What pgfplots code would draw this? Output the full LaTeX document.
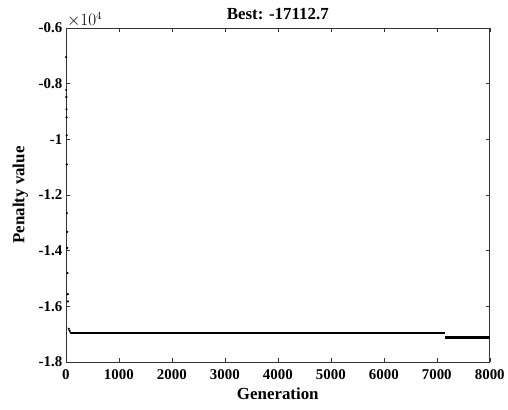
\documentclass[border=0pt]{standalone}
\usepackage{fontspec}
\setmainfont{Liberation Serif}
\usepackage{pgfplots}
\pgfplotsset{compat=1.18}
\begin{document}
\begin{tikzpicture}[x=1bp,y=1bp]
\begin{axis}[
  scale only axis,
  width=425bp, height=335bp,
  xmin=0, xmax=8000, ymin=-18000, ymax=-6000,
  xtick={0,1000,...,8000},
  ytick={-18000,-16000,...,-6000},
  scaled x ticks=false,
  scaled y ticks=base 10:-4,
  ytick scale label code/.code={$\times 10^{4}$},
  every y tick scale label/.style={at={(rel axis cs:0,1)},anchor=south west,inner sep=1pt,font=\fontsize{16}{16}\selectfont},
  /pgf/number format/assume math mode=true,
  yticklabel style={/pgf/number format/fixed,/pgf/number format/precision=1},
  xticklabel style={/pgf/number format/1000 sep={}, yshift=-4pt},
  tick label style={font=\fontsize{15}{15}\selectfont\bfseries},
  label style={font=\fontsize{17}{17}\selectfont\bfseries},
  title style={font=\fontsize{17}{17}\selectfont\bfseries, yshift=-1pt},
  title={Best: -17112.7},
  xlabel={Generation},
  ylabel={Penalty value},
  xlabel style={yshift=-1pt},
  ylabel style={yshift=4pt},
  tick align=inside,
  major tick length=4bp,
  axis line style={black!80, line width=0.6pt},
  every tick/.style={black!80, line width=0.5pt},
  clip=true,
]
\addplot[only marks, mark=*, mark size=0.9pt, black] coordinates {
 (5,-7050) (8,-8230) (10,-8480) (12,-8920) (14,-9210) (16,-9860)
 (18,-10900) (20,-12650) (24,-13320) (28,-13900) (32,-14800)
 (36,-15560) (40,-15820) (55,-16800) (70,-16870) (90,-16940)
};
\addplot[black, line width=2pt] coordinates {(100,-16950) (7150,-16950)};
\addplot[black, line width=3pt] coordinates {(7150,-17112.7) (8000,-17112.7)};
\coordinate (bl) at (rel axis cs:0,0);
\coordinate (tr) at (rel axis cs:1,1);
\end{axis}
\path ([shift={(-66bp,-48bp)}]bl) rectangle ([shift={(17bp,28bp)}]tr);
\end{tikzpicture}
\end{document}
